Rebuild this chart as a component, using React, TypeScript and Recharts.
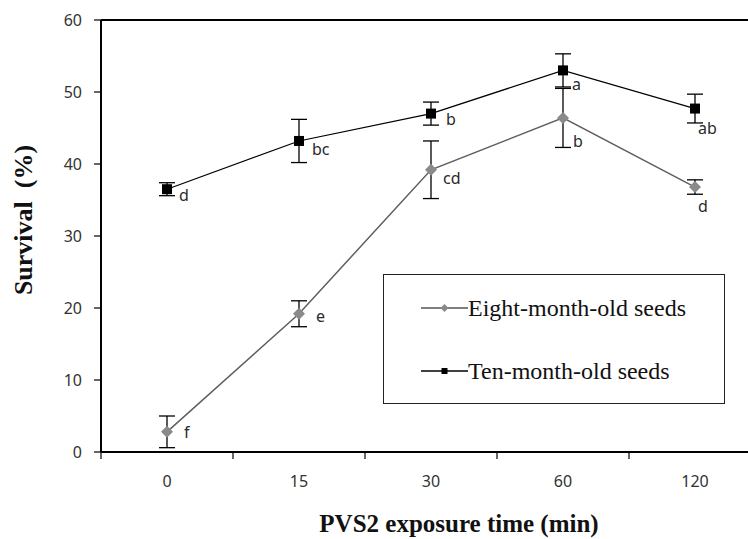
import React from "react";
import {
  LineChart,
  Line,
  XAxis,
  YAxis,
  ErrorBar,
  LabelList,
  ReferenceLine,
  Legend,
} from "recharts";

// ---- data ----
const times = ["0", "15", "30", "60", "120"];
const eightValues = [2.8, 19.2, 39.2, 46.4, 36.8];
const eightErrors = [2.2, 1.8, 4.0, 4.1, 1.0];
const eightLetters = ["f", "e", "cd", "b", "d"];
const tenValues = [36.5, 43.2, 47.0, 53.0, 47.7];
const tenErrors = [0.9, 3.0, 1.6, 2.3, 2.0];
const tenLetters = ["d", "bc", "b", "a", "ab"];
const yTicks = [0, 10, 20, 30, 40, 50, 60];

// ---- layout for letter annotations (px offsets from the point) ----
const eightLetterOffsets = [
  [17, 0],
  [17, 2],
  [12, 8],
  [10, 23],
  [3, 19],
];
const tenLetterOffsets = [
  [12, 6],
  [13, 8],
  [15, 5],
  [9, 14],
  [3, 19],
];

const data = times.map((t, i) => ({
  time: t,
  eight: eightValues[i],
  eightErr: eightErrors[i],
  eightLetter: eightLetters[i],
  ten: tenValues[i],
  tenErr: tenErrors[i],
  tenLetter: tenLetters[i],
}));

const SANS = "'Noto Sans', 'Open Sans', sans-serif";
const SERIF = "'Liberation Serif', 'Times New Roman', serif";

const SquareDot = (props: any) => {
  const { cx, cy } = props;
  if (cx == null || cy == null) return null;
  return <rect x={cx - 5} y={cy - 5} width={10} height={10} fill="#000" />;
};

const DiamondDot = (props: any) => {
  const { cx, cy } = props;
  if (cx == null || cy == null) return null;
  const r = 6;
  return (
    <polygon
      points={`${cx},${cy - r} ${cx + r},${cy} ${cx},${cy + r} ${cx - r},${cy}`}
      fill="#8a8a8a"
    />
  );
};

const makeLetter = (offsets: number[][]) => (props: any) => {
  const { x, y, value, index } = props;
  if (x == null || y == null) return null;
  const off = offsets[index] || [10, 0];
  return (
    <text
      x={x + off[0]}
      y={y + off[1]}
      dominantBaseline="central"
      fontFamily={SANS}
      fontSize={16}
      fill="#2a2a2a"
    >
      {value}
    </text>
  );
};

const XTick = (props: any) => {
  const { x, y, payload } = props;
  const half = payload && payload.offset != null ? payload.offset : 0;
  const axisY = y - 24;
  return (
    <g>
      <line x1={x - half} y1={axisY} x2={x - half} y2={axisY + 7} stroke="#000" strokeWidth={1.2} />
      <text
        x={x}
        y={y}
        dy="0.71em"
        textAnchor="middle"
        fontFamily={SANS}
        fontSize={16}
        fill="#333"
      >
        {payload.value}
      </text>
    </g>
  );
};

const LegendBox = () => {
  const rows = [
    { label: "Eight-month-old seeds", color: "#8a8a8a", line: "#555", shape: "diamond" },
    { label: "Ten-month-old seeds", color: "#000", line: "#000", shape: "square" },
  ];
  return (
    <div
      style={{
        width: 342,
        height: 130,
        boxSizing: "border-box",
        border: "1.5px solid #222",
        background: "#fff",
        position: "relative",
      }}
    >
      {rows.map((r, i) => (
        <div
          key={r.label}
          style={{
            position: "absolute",
            left: 37,
            top: i === 0 ? 33 : 96,
            transform: "translateY(-50%)",
            display: "flex",
            alignItems: "center",
            whiteSpace: "nowrap",
          }}
        >
          <svg width={47} height={14} style={{ display: "block" }}>
            <line x1={0} y1={7} x2={47} y2={7} stroke={r.line} strokeWidth={1.5} />
            {r.shape === "diamond" ? (
              <polygon points="23.5,3 27.5,7 23.5,11 19.5,7" fill={r.color} />
            ) : (
              <rect x={20.5} y={4} width={6} height={6} fill={r.color} />
            )}
          </svg>
          <span style={{ fontFamily: SERIF, fontSize: 24, color: "#111", lineHeight: "28px" }}>
            {r.label}
          </span>
        </div>
      ))}
    </div>
  );
};

export default function App() {
  return (
    <div
      style={{
        position: "absolute",
        left: 0,
        top: 0,
        width: 748,
        height: 539,
        overflow: "hidden",
        background: "#fff",
      }}
    >
      <LineChart
        width={770}
        height={539}
        data={data}
        margin={{ top: 20, right: 9, left: 0, bottom: 0 }}
      >
        <XAxis
          dataKey="time"
          type="category"
          scale="band"
          height={87}
          axisLine={{ stroke: "#000", strokeWidth: 2 }}
          tickLine={false}
          tickSize={7}
          tickMargin={17}
          tick={<XTick />}
          interval={0}
          label={(p: any) => {
            const vb = p.viewBox || {};
            return (
              <text
                x={vb.x + vb.width / 2 + 28}
                y={vb.y + 80}
                textAnchor="middle"
                fontFamily={SERIF}
                fontWeight="bold"
                fontSize={25}
                fill="#111"
              >
                PVS2 exposure time (min)
              </text>
            );
          }}
        />
        <YAxis
          type="number"
          domain={[0, 60]}
          ticks={yTicks}
          width={101}
          axisLine={{ stroke: "#000", strokeWidth: 2 }}
          tickLine={{ stroke: "#000", strokeWidth: 1.2 }}
          tickSize={7}
          tickMargin={12}
          tick={{ fontFamily: SANS, fontSize: 16, fill: "#333" }}
          label={(p: any) => {
            const vb = p.viewBox || {};
            const cx = 32;
            const cy = vb.y + vb.height / 2 - 16;
            return (
              <text
                x={cx}
                y={cy}
                transform={`rotate(-90, ${cx}, ${cy})`}
                textAnchor="middle"
                fontFamily={SERIF}
                fontWeight="bold"
                fontSize={26}
                fill="#111"
              >
                {"Survival\u00a0\u00a0(%)"}
              </text>
            );
          }}
        />
        <ReferenceLine y={60} stroke="#000" strokeWidth={2} ifOverflow="visible" />
        <Legend
          layout="vertical"
          align="center"
          verticalAlign="middle"
          content={<LegendBox />}
          wrapperStyle={{ position: "absolute", left: 383, top: 274, width: 342, height: 130 }}
        />
        <Line
          type="linear"
          dataKey="eight"
          stroke="#5f5f5f"
          strokeWidth={1.5}
          dot={<DiamondDot />}
          activeDot={false}
          isAnimationActive={false}
        >
          <ErrorBar dataKey="eightErr" direction="y" width={8} stroke="#000" strokeWidth={1.3} />
          <LabelList dataKey="eightLetter" content={makeLetter(eightLetterOffsets)} />
        </Line>
        <Line
          type="linear"
          dataKey="ten"
          stroke="#000"
          strokeWidth={1.2}
          dot={<SquareDot />}
          activeDot={false}
          isAnimationActive={false}
        >
          <ErrorBar dataKey="tenErr" direction="y" width={8} stroke="#000" strokeWidth={1.3} />
          <LabelList dataKey="tenLetter" content={makeLetter(tenLetterOffsets)} />
        </Line>
      </LineChart>
    </div>
  );
}
